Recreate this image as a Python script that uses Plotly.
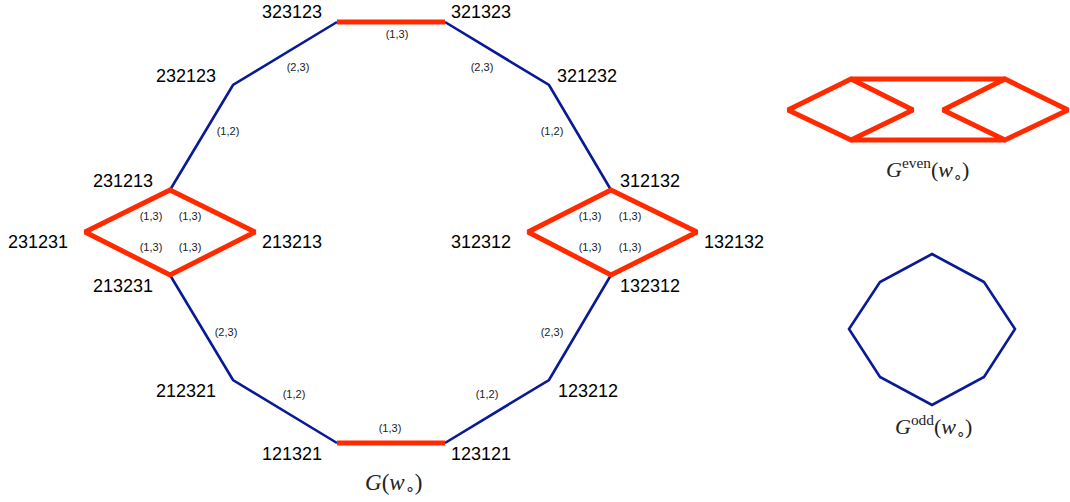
import plotly.graph_objects as go

# ---- data ----
node_names = ["323123", "321323", "232123", "321232", "231213", "312132",
              "231231", "213213", "312312", "132132", "213231", "132312",
              "212321", "123212", "121321", "123121"]
node_x = [337, 445, 233, 549, 170, 611, 85, 255, 528, 697, 170, 611, 233, 549, 337, 445]
node_y = [22, 22, 85, 85, 190, 190, 232, 232, 232, 232, 275, 275, 380, 380, 443, 443]
label_x = [292, 481, 186, 587, 123, 650, 38, 292, 481, 734, 123, 650, 186, 588, 292, 481]
label_y = [13, 13, 77, 77, 182, 182, 243, 243, 243, 243, 287, 287, 392, 392, 455, 455]

blue_path = ["231213", "232123", "323123"]
blue_path2 = ["321323", "321232", "312132"]
blue_path3 = ["132312", "123212", "123121"]
blue_path4 = ["121321", "212321", "213231"]
red_edges = [("323123", "321323"), ("121321", "123121")]
left_diamond = ["231231", "231213", "213213", "213231"]
right_diamond = ["312312", "312132", "132132", "132312"]

edge_labels = ["(1,3)", "(2,3)", "(2,3)", "(1,2)", "(1,2)",
               "(1,3)", "(1,3)", "(1,3)", "(1,3)",
               "(1,3)", "(1,3)", "(1,3)", "(1,3)",
               "(2,3)", "(1,2)", "(2,3)", "(1,2)", "(1,3)"]
edge_label_x = [397, 298, 482, 228, 552,
                151, 190, 151, 190,
                590, 630, 590, 630,
                226, 294, 552, 487, 390]
edge_label_y = [35, 68, 68, 132, 132,
                217, 217, 248, 248,
                217, 217, 248, 248,
                333, 395, 333, 395, 429]

even_x = [851, 1005, 788, 913, 943, 1068, 851, 1005]
even_y = [79, 79, 110, 110, 110, 110, 140, 140]
odd_x = [932, 984, 1015, 984, 932, 880, 849, 880]
odd_y = [254, 282, 329, 377, 405, 377, 329, 282]

BLUE = "#0a1a96"
RED = "#ff2a00"

pos = {n: (x, y) for n, x, y in zip(node_names, node_x, node_y)}

fig = go.Figure()


def poly_trace(xs, ys, color, width, closed=False):
    xs = list(xs)
    ys = list(ys)
    if closed:
        xs = xs + [xs[0], xs[1]]
        ys = ys + [ys[0], ys[1]]
    return go.Scatter(x=xs, y=ys, mode="lines",
                      line=dict(color=color, width=width),
                      hoverinfo="skip", showlegend=False)


def path_trace(names, color, width, closed=False):
    return poly_trace([pos[n][0] for n in names], [pos[n][1] for n in names],
                      color, width, closed)


for p in [blue_path, blue_path2, blue_path3, blue_path4]:
    fig.add_trace(path_trace(p, BLUE, 2.6))
for a, b in red_edges:
    fig.add_trace(path_trace([a, b], RED, 5))
fig.add_trace(path_trace(left_diamond, RED, 5, closed=True))
fig.add_trace(path_trace(right_diamond, RED, 5, closed=True))

# G_even: two diamonds + top/bottom bars
ev = list(zip(even_x, even_y))
TL, TR, L, IL, IR, R, BL, BR = ev
for poly, closed in [([L, TL, IL, BL], True), ([IR, TR, R, BR], True),
                     ([TL, TR], False), ([BL, BR], False)]:
    fig.add_trace(poly_trace([p[0] for p in poly], [p[1] for p in poly],
                             RED, 5, closed))

# G_odd octagon
fig.add_trace(poly_trace(odd_x, odd_y, BLUE, 2.6, closed=True))

# node labels
fig.add_trace(go.Scatter(x=label_x, y=label_y, mode="text", text=node_names,
                         textfont=dict(family="Liberation Sans", size=18, color="black"),
                         textposition="middle center", hoverinfo="skip", showlegend=False))
# edge labels
fig.add_trace(go.Scatter(x=edge_label_x, y=edge_label_y, mode="text", text=edge_labels,
                         textfont=dict(family="Liberation Sans", size=11, color="#222222"),
                         textposition="middle center", hoverinfo="skip", showlegend=False))

fig.add_annotation(x=393, y=484, text="<i>G</i>(<i>w</i><sub>∘</sub>)",
                   showarrow=False, font=dict(family="Liberation Serif", size=23, color="#222222"))
fig.add_annotation(x=927, y=169, text="<i>G</i><sup>even</sup>(<i>w</i><sub>∘</sub>)",
                   showarrow=False, font=dict(family="Liberation Serif", size=22, color="#222222"))
fig.add_annotation(x=933, y=426, text="<i>G</i><sup>odd</sup>(<i>w</i><sub>∘</sub>)",
                   showarrow=False, font=dict(family="Liberation Serif", size=22, color="#222222"))

fig.update_xaxes(range=[0, 1070], visible=False, showgrid=False, zeroline=False)
fig.update_yaxes(range=[502, 0], visible=False, showgrid=False, zeroline=False)
fig.update_layout(width=1070, height=502, margin=dict(l=0, r=0, t=0, b=0),
                  plot_bgcolor="white", paper_bgcolor="white")

fig.write_html("out.html", config={"displayModeBar": False},
               post_script="document.body.style.margin='0';document.body.style.overflow='hidden';")
